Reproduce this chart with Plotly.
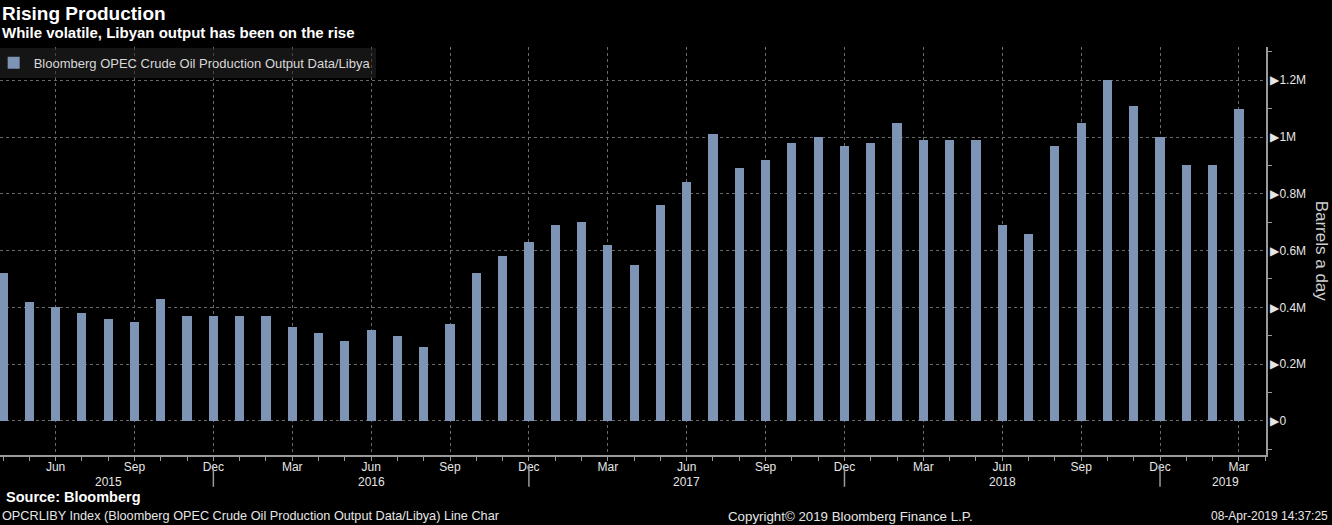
import plotly.graph_objects as go

months = ["2015-04","2015-05","2015-06","2015-07","2015-08","2015-09","2015-10","2015-11","2015-12",
          "2016-01","2016-02","2016-03","2016-04","2016-05","2016-06","2016-07","2016-08","2016-09","2016-10","2016-11","2016-12",
          "2017-01","2017-02","2017-03","2017-04","2017-05","2017-06","2017-07","2017-08","2017-09","2017-10","2017-11","2017-12",
          "2018-01","2018-02","2018-03","2018-04","2018-05","2018-06","2018-07","2018-08","2018-09","2018-10","2018-11","2018-12",
          "2019-01","2019-02","2019-03"]
production = [520000, 420000, 400000, 380000, 360000, 350000, 430000, 370000, 370000,
              370000, 370000, 330000, 310000, 280000, 320000, 300000, 260000, 340000, 520000, 580000, 630000,
              690000, 700000, 620000, 550000, 760000, 840000, 1010000, 890000, 920000, 980000, 1000000, 970000,
              980000, 1050000, 990000, 990000, 990000, 690000, 660000, 970000, 1050000, 1200000, 1110000, 1000000,
              900000, 900000, 1100000]
y_ticks = [0, 200000, 400000, 600000, 800000, 1000000, 1200000]
y_tick_labels = ["0", "0.2M", "0.4M", "0.6M", "0.8M", "1M", "1.2M"]
month_names = {3: "Mar", 6: "Jun", 9: "Sep", 12: "Dec"}

x_idx = list(range(len(months)))
quarter_idx = [i for i, m in enumerate(months) if int(m[5:]) in month_names]
quarter_txt = [month_names[int(months[i][5:])] for i in quarter_idx]
dec_idx = [i for i, m in enumerate(months) if m.endswith("-12")]

FONT = "Liberation Sans"
TXT = "#e6e6e6"
AX = "#9a9a9a"

fig = go.Figure()
fig.add_trace(go.Bar(
    x=x_idx, y=production, width=0.35,
    marker=dict(color="#7d94b5", line=dict(width=0)),
    name="Bloomberg OPEC Crude Oil Production Output Data/Libya",
))

fig.update_layout(
    width=1332, height=525,
    paper_bgcolor="black", plot_bgcolor="black",
    margin=dict(l=0, r=66, t=47, b=70, autoexpand=False),
    font=dict(family=FONT, color=TXT, size=12),
    showlegend=True,
    legend=dict(x=-0.005, y=0.998, xanchor="left", yanchor="top",
                bgcolor="rgba(38,38,38,0.55)", borderwidth=0,
                font=dict(size=13, color="#d8d8d8", family=FONT),
                itemwidth=30),
    bargap=0,
)
fig.update_xaxes(
    range=[-0.114, 48.03], showline=True, linecolor=AX, linewidth=2,
    tickmode="array", tickvals=quarter_idx, ticktext=quarter_txt,
    ticks="", tickcolor=AX,
    showgrid=True, gridcolor="#6a6a6a", griddash="dot", gridwidth=1,
    zeroline=False, tickfont=dict(size=12, color=TXT),
    minor=dict(tickmode="linear", tick0=0, dtick=1, ticks="outside", ticklen=4, tickcolor=AX, showgrid=False),
)
fig.update_yaxes(
    side="right", range=[-120000, 1317000], showline=True, linecolor=AX, linewidth=2,
    tickmode="array", tickvals=y_ticks, ticktext=["\u25B6" + t for t in y_tick_labels],
    ticks="", showgrid=True, gridcolor="#6a6a6a", griddash="dot", gridwidth=1,
    zeroline=False, tickfont=dict(size=12, color=TXT), ticklabelstandoff=0,
    minor=dict(tickmode="linear", tick0=100000, dtick=200000, ticks="outside", ticklen=4, tickcolor=AX, showgrid=False),
)

# Year separators and labels
for d in dec_idx:
    fig.add_shape(type="line", xref="x", yref="paper", x0=d, x1=d, y0=-0.025, y1=-0.078,
                  line=dict(color=AX, width=1.5))
years = sorted(set(m[:4] for m in months))
edges = [0] + dec_idx + [len(months) + 1]
for k, yr in enumerate(years):
    fig.add_annotation(x=(edges[k] + edges[k + 1]) / 2, y=-0.066, xref="x", yref="paper",
                       text=yr, showarrow=False, font=dict(size=12, color=TXT), yanchor="middle")

fig.add_annotation(x=0, y=1.083, xref="paper", yref="paper", xanchor="left", yanchor="middle",
                   text="<b>Rising Production</b>", showarrow=False, font=dict(size=19, color="white"))
fig.add_annotation(x=0, y=1.035, xref="paper", yref="paper", xanchor="left", yanchor="middle",
                   text="<b>While volatile, Libyan output has been on the rise</b>", showarrow=False,
                   font=dict(size=15, color="white"))
fig.add_annotation(x=1.0445, y=0.5, xref="paper", yref="paper", xanchor="center", yanchor="middle",
                   text="Barrels a day", textangle=90, showarrow=False, font=dict(size=17, color="#cfcfcf"))
fig.add_annotation(x=0.003, y=-0.103, xref="paper", yref="paper", xanchor="left", yanchor="middle",
                   text="<b>Source: Bloomberg</b>", showarrow=False, font=dict(size=14.5, color="white"))
fig.add_annotation(x=0.0, y=-0.15, xref="paper", yref="paper", xanchor="left", yanchor="middle",
                   text="OPCRLIBY Index (Bloomberg OPEC Crude Oil Production Output Data/Libya) Line Char",
                   showarrow=False, font=dict(size=12.7, color=TXT))
fig.add_annotation(x=0.672, y=-0.15, xref="paper", yref="paper", xanchor="center", yanchor="middle",
                   text="Copyright\u00a9 2019 Bloomberg Finance L.P.", showarrow=False, font=dict(size=13.3, color=TXT))
fig.add_annotation(x=1.0504, y=-0.15, xref="paper", yref="paper", xanchor="right", yanchor="middle",
                   text="08-Apr-2019 14:37:25", showarrow=False, font=dict(size=12, color=TXT))

fig.write_html("out.html")
